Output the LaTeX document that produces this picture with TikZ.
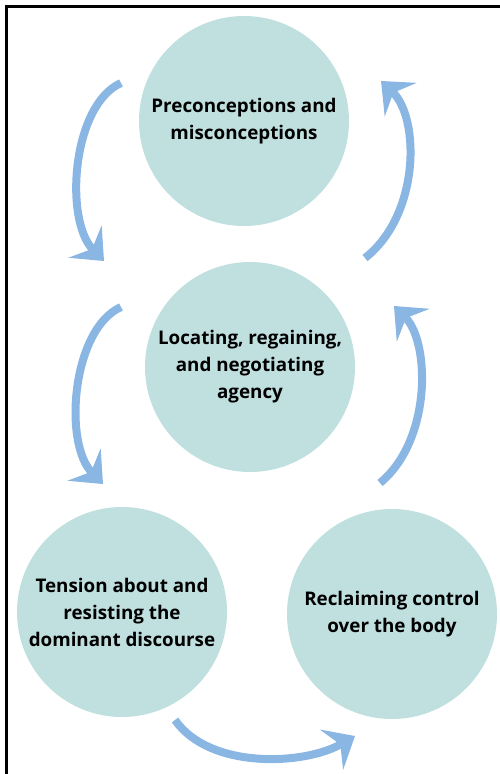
\documentclass[tikz,border=0pt]{standalone}
\usepackage{fontspec}
\setmainfont{Open Sans}
\usetikzlibrary{arrows.meta}
\definecolor{stagefill}{RGB}{192,223,223}
\definecolor{arrowblue}{RGB}{138,182,228}
\begin{document}
\begin{tikzpicture}[x=1bp,y=-1bp,
    stage/.style={circle,fill=stagefill,minimum size=210bp,inner sep=0pt,
      align=center,font=\bfseries\fontsize{18.8bp}{27bp}\selectfont},
    cyclearrow/.style={draw=arrowblue,line width=8bp,
      -{Stealth[length=27bp,width=46bp,inset=10bp,fill=arrowblue]}}]
      \useasboundingbox (0,0) rectangle (500,774);
      \draw[line width=2.5bp] (6.5,774) -- (6.5,6.5) -- (500,6.5);
      \draw
        (244,121) node[stage] (0){Preconceptions and\\misconceptions}
        (250,367) node[stage] (1){Locating, regaining,\\and negotiating\\agency}
        (122,612) node[stage] (2){Tension about and\\resisting the\\dominant discourse}
        (392,614) node[stage] (3){Reclaiming control\\over the body};
      % free ends of the arrows
      \coordinate (0w) at (121,83);
      \coordinate (1n) at (104,261);
      \coordinate (1e) at (365,258);
      \coordinate (0e) at (381,81);
      \coordinate (1w) at (121,307);
      \coordinate (2n) at (103,484);
      \coordinate (3n) at (380,483);
      \coordinate (1ne) at (394,306);
      \coordinate (2s) at (175,720);
      \coordinate (3s) at (355,736);
      \begin{scope}[cyclearrow]
        \draw (0w) .. controls (72,105) and (64,220) .. (1n);
        \draw (1e) .. controls (420,215) and (420,118) .. (0e);
        \draw (1w) .. controls (72,329) and (63,443) .. (2n);
        \draw (3n) .. controls (432,440) and (430,342) .. (1ne);
        \draw (2s) .. controls (210,770) and (305,765) .. (3s);
      \end{scope}
    \end{tikzpicture}
\end{document}
